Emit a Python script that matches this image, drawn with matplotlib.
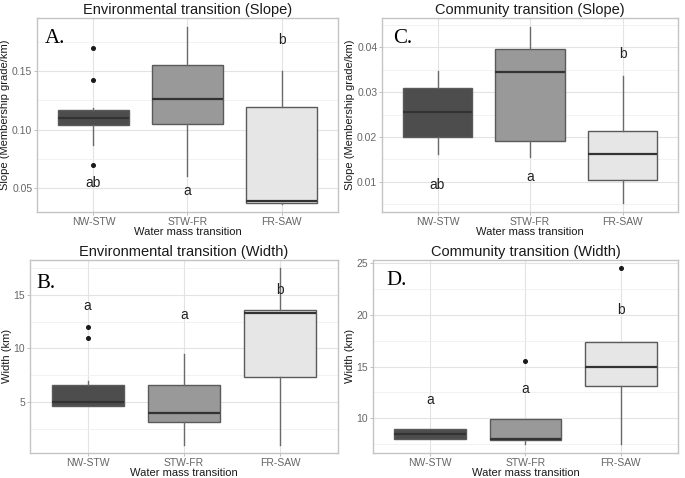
"""
Boxplots of transition slope and width by water mass transition.
Four panels in a 2x2 grid, styled like ggplot's theme_light.
"""

import matplotlib
matplotlib.use("Agg")
import matplotlib.pyplot as plt
from matplotlib.ticker import MultipleLocator, FormatStrFormatter

plt.rcParams["font.family"] = ["Liberation Sans", "DejaVu Sans"]

groups = ["NW-STW", "STW-FR", "FR-SAW"]
fills = ["#4d4d4d", "#999999", "#e6e6e6"]

# box summaries per panel: q1, median, q3, lower whisker, upper whisker
env_slope_q1 = [0.104, 0.105, 0.037]
env_slope_med = [0.110, 0.126, 0.039]
env_slope_q3 = [0.117, 0.155, 0.119]
env_slope_lo = [0.087, 0.0605, 0.036]
env_slope_hi = [0.118, 0.188, 0.150]
env_slope_out = [[0.170, 0.142, 0.070], [], []]
env_slope_sig = ["ab", "a", "b"]
env_slope_sig_y = [0.054, 0.047, 0.177]

com_slope_q1 = [0.020, 0.019, 0.0103]
com_slope_med = [0.0255, 0.0345, 0.0162]
com_slope_q3 = [0.031, 0.0397, 0.0213]
com_slope_lo = [0.0161, 0.0155, 0.0052]
com_slope_hi = [0.0348, 0.0446, 0.0336]
com_slope_out = [[], [], []]
com_slope_sig = ["ab", "a", "b"]
com_slope_sig_y = [0.0093, 0.0111, 0.0386]

env_width_q1 = [4.6, 3.15, 7.3]
env_width_med = [5.0, 4.0, 13.3]
env_width_q3 = [6.6, 6.6, 13.6]
env_width_lo = [4.6, 1.0, 1.0]
env_width_hi = [7.0, 9.5, 17.5]
env_width_out = [[12.0, 11.0], [], []]
env_width_sig = ["a", "a", "b"]
env_width_sig_y = [14.0, 13.1, 15.5]

com_width_q1 = [7.95, 7.9, 13.1]
com_width_med = [8.5, 8.0, 15.0]
com_width_q3 = [9.0, 9.9, 17.4]
com_width_lo = [7.95, 7.5, 7.5]
com_width_hi = [9.0, 9.9, 17.4]
com_width_out = [[], [15.5], [24.5]]
com_width_sig = ["a", "a", "b"]
com_width_sig_y = [11.75, 12.8, 20.5]


def draw_panel(ax, q1, med, q3, lo, hi, out, sig, sig_y, title, ylabel,
               ylim, major, minor, fmt, tag, tag_xy):
    stats = []
    for i in range(3):
        stats.append(dict(q1=q1[i], med=med[i], q3=q3[i], whislo=lo[i],
                          whishi=hi[i], fliers=out[i]))
    res = ax.bxp(stats, positions=[1, 2, 3], widths=0.75, patch_artist=True,
                 showcaps=False,
                 boxprops=dict(edgecolor="#5a5a5a", linewidth=1.0),
                 whiskerprops=dict(color="#6a6a6a", linewidth=1.0),
                 medianprops=dict(color="#333333", linewidth=1.6),
                 flierprops=dict(marker="o", markersize=2.6,
                                 markerfacecolor="#1a1a1a",
                                 markeredgecolor="#1a1a1a"))
    for patch, c in zip(res["boxes"], fills):
        patch.set_facecolor(c)
    for x, (s, y) in enumerate(zip(sig, sig_y), start=1):
        ax.text(x, y, s, ha="center", va="center", fontsize=10, color="#222222")

    ax.set_xlim(0.4, 3.6)
    ax.set_ylim(*ylim)
    ax.set_xticks([1, 2, 3])
    ax.set_xticklabels(groups)
    ax.yaxis.set_major_locator(MultipleLocator(major))
    ax.yaxis.set_minor_locator(MultipleLocator(minor))
    ax.yaxis.set_major_formatter(FormatStrFormatter(fmt))
    ax.grid(True, which="major", color="#e3e3e3", linewidth=0.8)
    ax.grid(True, which="minor", axis="y", color="#f0f0f0", linewidth=0.6)
    ax.set_axisbelow(True)
    for sp in ax.spines.values():
        sp.set_color("#c4c4c4")
        sp.set_linewidth(1.0)
    ax.tick_params(which="major", length=2.5, width=0.6, color="#b3b3b3",
                   labelsize=7.5, labelcolor="#666666", pad=0.9)
    ax.tick_params(which="minor", length=0)
    ax.set_title(title, fontsize=10.5, color="#1a1a1a", pad=3)
    ax.set_ylabel(ylabel, fontsize=8, color="#1a1a1a", labelpad=1.5)
    ax.set_xlabel("Water mass transition", fontsize=8, color="#1a1a1a",
                  labelpad=0.5)
    ax.text(tag_xy[0], tag_xy[1], tag, transform=ax.transAxes,
            family="Liberation Serif", fontsize=15, va="baseline", ha="left")


fig = plt.figure(figsize=(6.85, 4.78), dpi=100)
ax_a = fig.add_axes([0.054, 0.5565, 0.4394, 0.4059])
ax_c = fig.add_axes([0.5577, 0.5565, 0.4321, 0.4059])
ax_b = fig.add_axes([0.0438, 0.0527, 0.4496, 0.4034])
ax_d = fig.add_axes([0.5445, 0.0527, 0.4453, 0.4034])

draw_panel(ax_a, env_slope_q1, env_slope_med, env_slope_q3, env_slope_lo,
           env_slope_hi, env_slope_out, env_slope_sig, env_slope_sig_y,
           "Environmental transition (Slope)", "Slope (Membership grade/km)",
           (0.0294, 0.1955), 0.05, 0.025, "%.2f", "A.", (0.027, 0.871))
draw_panel(ax_c, com_slope_q1, com_slope_med, com_slope_q3, com_slope_lo,
           com_slope_hi, com_slope_out, com_slope_sig, com_slope_sig_y,
           "Community transition (Slope)", "Slope (Membership grade/km)",
           (0.0032, 0.0466), 0.01, 0.005, "%.2f", "C.", (0.036, 0.87))
draw_panel(ax_b, env_width_q1, env_width_med, env_width_q3, env_width_lo,
           env_width_hi, env_width_out, env_width_sig, env_width_sig_y,
           "Environmental transition (Width)", "Width (km)",
           (0.25, 18.26), 5, 2.5, "%d", "B.", (0.022, 0.854))
draw_panel(ax_d, com_width_q1, com_width_med, com_width_q3, com_width_lo,
           com_width_hi, com_width_out, com_width_sig, com_width_sig_y,
           "Community transition (Width)", "Width (km)",
           (6.66, 25.32), 5, 2.5, "%d", "D.", (0.045, 0.871))

fig.savefig("out.png", dpi=100)
